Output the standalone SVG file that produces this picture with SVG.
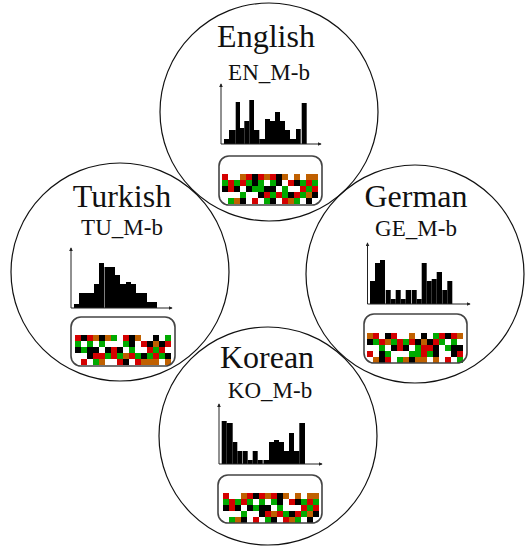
<svg xmlns="http://www.w3.org/2000/svg" width="528" height="549" viewBox="0 0 528 549">
<style>
.c{fill:none;stroke:#111;stroke-width:1.2}
.t{font-family:"Liberation Serif","Times New Roman",serif;font-size:32px;fill:#111;text-anchor:middle}
.s{font-family:"Liberation Serif","Times New Roman",serif;font-size:23px;fill:#111;text-anchor:middle}
.ax{fill:none;stroke:#222;stroke-width:1}
.bar rect{fill:#000}
.box{fill:none;stroke:#444;stroke-width:1.6}
.r{fill:#d40000}.g{fill:#00aa00}.k{fill:#000}.o{fill:#c06000}
</style>
<defs>
<marker id="ah" viewBox="0 0 6 6" refX="5" refY="3" markerWidth="4" markerHeight="4" markerUnits="userSpaceOnUse" orient="auto"><path d="M0,0 L6,3 L0,6 z" fill="#222"/></marker>
</defs>

<g id="connectors"></g>

<g id="english">
<circle class="c" cx="269" cy="112" r="109"/>
<text class="t" x="266" y="47">English</text>
<text class="s" x="269" y="80">EN_M-b</text>
<g class="bar">
<rect x="224" y="139" width="5" height="5"/>
<rect x="229" y="130" width="6.7" height="14"/>
<rect x="235.7" y="102" width="4.3" height="42"/>
<rect x="240" y="128" width="4.3" height="16"/>
<rect x="244.3" y="121" width="5" height="23"/>
<rect x="249.3" y="100" width="4.7" height="44"/>
<rect x="254" y="130" width="5.3" height="14"/>
<rect x="259.3" y="139" width="5.7" height="5"/>
<rect x="265" y="119" width="5" height="25"/>
<rect x="270" y="121" width="5" height="23"/>
<rect x="275" y="112" width="5" height="32"/>
<rect x="280" y="121" width="5" height="23"/>
<rect x="285" y="130" width="5" height="14"/>
<rect x="290" y="139" width="6" height="5"/>
<rect x="296" y="129" width="4.7" height="15"/>
<rect x="301.7" y="103" width="5" height="41"/>
</g>
<path class="ax" d="M221,144 V84" marker-end="url(#ah)"/>
<path class="ax" d="M221,144 H321" marker-end="url(#ah)"/>
<g transform="translate(222,174)">
<rect class="r" x="0" y="0" width="6" height="6"/><rect class="o" x="18" y="0" width="6" height="6"/><rect class="r" x="24" y="0" width="6" height="6"/><rect class="k" x="30" y="0" width="6" height="6"/><rect class="r" x="36" y="0" width="6" height="6"/><rect class="o" x="42" y="0" width="6" height="6"/><rect class="r" x="48" y="0" width="6" height="6"/><rect class="k" x="54" y="0" width="6" height="6"/><rect class="o" x="60" y="0" width="6" height="6"/><rect class="o" x="72" y="0" width="6" height="6"/><rect class="o" x="84" y="0" width="6" height="6"/><rect class="o" x="90" y="0" width="6" height="6"/>
<rect class="g" x="0" y="6" width="6" height="6"/><rect class="r" x="6" y="6" width="6" height="6"/><rect class="g" x="12" y="6" width="6" height="6"/><rect class="r" x="18" y="6" width="6" height="6"/><rect class="g" x="24" y="6" width="6" height="6"/><rect class="k" x="30" y="6" width="6" height="6"/><rect class="g" x="36" y="6" width="6" height="6"/><rect class="g" x="48" y="6" width="6" height="6"/><rect class="k" x="54" y="6" width="6" height="6"/><rect class="r" x="66" y="6" width="6" height="6"/><rect class="k" x="72" y="6" width="6" height="6"/><rect class="g" x="78" y="6" width="6" height="6"/><rect class="r" x="84" y="6" width="6" height="6"/><rect class="g" x="90" y="6" width="6" height="6"/>
<rect class="k" x="0" y="12" width="6" height="6"/><rect class="r" x="6" y="12" width="6" height="6"/><rect class="k" x="12" y="12" width="6" height="6"/><rect class="k" x="24" y="12" width="6" height="6"/><rect class="g" x="30" y="12" width="6" height="6"/><rect class="g" x="36" y="12" width="6" height="6"/><rect class="k" x="42" y="12" width="6" height="6"/><rect class="k" x="48" y="12" width="6" height="6"/><rect class="g" x="60" y="12" width="6" height="6"/><rect class="r" x="78" y="12" width="6" height="6"/><rect class="g" x="84" y="12" width="6" height="6"/><rect class="r" x="90" y="12" width="6" height="6"/>
<rect class="g" x="18" y="18" width="6" height="6"/><rect class="k" x="36" y="18" width="6" height="6"/><rect class="r" x="42" y="18" width="6" height="6"/><rect class="g" x="48" y="18" width="6" height="6"/><rect class="r" x="54" y="18" width="6" height="6"/><rect class="g" x="60" y="18" width="6" height="6"/><rect class="k" x="66" y="18" width="6" height="6"/><rect class="r" x="72" y="18" width="6" height="6"/><rect class="g" x="78" y="18" width="6" height="6"/><rect class="o" x="84" y="18" width="6" height="6"/><rect class="k" x="90" y="18" width="6" height="6"/>
<rect class="g" x="6" y="24" width="6" height="6"/><rect class="o" x="12" y="24" width="6" height="6"/><rect class="k" x="18" y="24" width="6" height="6"/><rect class="r" x="30" y="24" width="6" height="6"/><rect class="g" x="42" y="24" width="6" height="6"/><rect class="k" x="48" y="24" width="6" height="6"/><rect class="r" x="60" y="24" width="6" height="6"/><rect class="o" x="66" y="24" width="6" height="6"/><rect class="g" x="72" y="24" width="6" height="6"/><rect class="k" x="84" y="24" width="6" height="6"/>
</g>
<rect class="box" x="219" y="156" width="103" height="49" rx="10"/>
</g>

<g id="turkish">
<circle class="c" cx="120" cy="272" r="109"/>
<text class="t" x="122" y="207">Turkish</text>
<text class="s" x="122" y="235">TU_M-b</text>
<g class="bar">
<rect x="74" y="304" width="5" height="4"/>
<rect x="79" y="293" width="15" height="15"/>
<rect x="94" y="284" width="5" height="24"/>
<rect x="99" y="263" width="5" height="45"/>
<rect x="104.5" y="267" width="10.5" height="41"/>
<rect x="115" y="275" width="5" height="33"/>
<rect x="120" y="284" width="6" height="24"/>
<rect x="126" y="282" width="5" height="26"/>
<rect x="131" y="284" width="5" height="24"/>
<rect x="136" y="293" width="11" height="15"/>
<rect x="147" y="302" width="10" height="6"/>
</g>
<path class="ax" d="M71,308 V248" marker-end="url(#ah)"/>
<path class="ax" d="M71,308 H172" marker-end="url(#ah)"/>
<g transform="translate(75,335)">
<rect class="r" x="0" y="0" width="6" height="6"/><rect class="k" x="6" y="0" width="6" height="6"/><rect class="r" x="12" y="0" width="6" height="6"/><rect class="o" x="18" y="0" width="6" height="6"/><rect class="k" x="24" y="0" width="6" height="6"/><rect class="o" x="30" y="0" width="6" height="6"/><rect class="g" x="36" y="0" width="6" height="6"/><rect class="r" x="48" y="0" width="6" height="6"/><rect class="k" x="54" y="0" width="6" height="6"/><rect class="o" x="60" y="0" width="6" height="6"/><rect class="k" x="78" y="0" width="6" height="6"/><rect class="g" x="90" y="0" width="6" height="6"/>
<rect class="g" x="0" y="6" width="6" height="6"/><rect class="g" x="12" y="6" width="6" height="6"/><rect class="g" x="24" y="6" width="6" height="6"/><rect class="g" x="48" y="6" width="6" height="6"/><rect class="k" x="54" y="6" width="6" height="6"/><rect class="r" x="66" y="6" width="6" height="6"/><rect class="k" x="72" y="6" width="6" height="6"/><rect class="o" x="78" y="6" width="6" height="6"/><rect class="k" x="84" y="6" width="6" height="6"/><rect class="r" x="90" y="6" width="6" height="6"/>
<rect class="k" x="0" y="12" width="6" height="6"/><rect class="g" x="6" y="12" width="6" height="6"/><rect class="k" x="12" y="12" width="6" height="6"/><rect class="k" x="18" y="12" width="6" height="6"/><rect class="k" x="30" y="12" width="6" height="6"/><rect class="r" x="36" y="12" width="6" height="6"/><rect class="k" x="42" y="12" width="6" height="6"/><rect class="g" x="54" y="12" width="6" height="6"/><rect class="r" x="72" y="12" width="6" height="6"/><rect class="g" x="78" y="12" width="6" height="6"/><rect class="r" x="84" y="12" width="6" height="6"/>
<rect class="k" x="12" y="18" width="6" height="6"/><rect class="r" x="18" y="18" width="6" height="6"/><rect class="r" x="24" y="18" width="6" height="6"/><rect class="g" x="30" y="18" width="6" height="6"/><rect class="r" x="36" y="18" width="6" height="6"/><rect class="g" x="42" y="18" width="6" height="6"/><rect class="o" x="48" y="18" width="6" height="6"/><rect class="r" x="54" y="18" width="6" height="6"/><rect class="g" x="60" y="18" width="6" height="6"/><rect class="k" x="66" y="18" width="6" height="6"/><rect class="g" x="72" y="18" width="6" height="6"/><rect class="r" x="78" y="18" width="6" height="6"/><rect class="g" x="84" y="18" width="6" height="6"/><rect class="k" x="90" y="18" width="6" height="6"/>
<rect class="r" x="6" y="24" width="6" height="6"/><rect class="g" x="18" y="24" width="6" height="6"/><rect class="o" x="24" y="24" width="6" height="6"/><rect class="r" x="42" y="24" width="6" height="6"/><rect class="k" x="48" y="24" width="6" height="6"/><rect class="r" x="60" y="24" width="6" height="6"/><rect class="o" x="66" y="24" width="6" height="6"/><rect class="o" x="72" y="24" width="6" height="6"/><rect class="o" x="78" y="24" width="6" height="6"/><rect class="o" x="90" y="24" width="6" height="6"/>
</g>
<rect class="box" x="71" y="317" width="104" height="49" rx="10"/>
</g>

<g id="german">
<circle class="c" cx="415" cy="274" r="109"/>
<text class="t" x="416" y="207">German</text>
<text class="s" x="416" y="236">GE_M-b</text>
<g class="bar">
<rect x="370" y="281" width="5" height="23"/>
<rect x="375" y="263" width="5" height="41"/>
<rect x="380" y="260" width="5" height="44"/>
<rect x="385.7" y="290" width="5" height="14"/>
<rect x="390.7" y="299" width="5" height="5"/>
<rect x="395.7" y="290" width="5" height="14"/>
<rect x="400.7" y="299" width="5" height="5"/>
<rect x="405.7" y="290" width="5.3" height="14"/>
<rect x="411.7" y="290" width="5" height="14"/>
<rect x="416.7" y="299" width="5" height="5"/>
<rect x="421.7" y="263" width="5" height="41"/>
<rect x="426.7" y="281" width="5" height="23"/>
<rect x="431.7" y="279" width="5" height="25"/>
<rect x="436.7" y="272" width="5.3" height="32"/>
<rect x="442.3" y="290" width="5" height="14"/>
<rect x="447.3" y="281" width="5" height="23"/>
</g>
<path class="ax" d="M367.5,304 V243" marker-end="url(#ah)"/>
<path class="ax" d="M367.5,304 H470" marker-end="url(#ah)"/>
<g transform="translate(367,333)">
<rect class="o" x="0" y="0" width="6" height="6"/><rect class="r" x="6" y="0" width="6" height="6"/><rect class="k" x="18" y="0" width="6" height="6"/><rect class="r" x="24" y="0" width="6" height="6"/><rect class="o" x="42" y="0" width="6" height="6"/><rect class="k" x="54" y="0" width="6" height="6"/><rect class="g" x="66" y="0" width="6" height="6"/><rect class="r" x="72" y="0" width="6" height="6"/><rect class="k" x="78" y="0" width="6" height="6"/><rect class="r" x="84" y="0" width="6" height="6"/><rect class="o" x="90" y="0" width="6" height="6"/>
<rect class="k" x="0" y="6" width="6" height="6"/><rect class="g" x="6" y="6" width="6" height="6"/><rect class="r" x="12" y="6" width="6" height="6"/><rect class="o" x="18" y="6" width="6" height="6"/><rect class="g" x="24" y="6" width="6" height="6"/><rect class="r" x="30" y="6" width="6" height="6"/><rect class="g" x="36" y="6" width="6" height="6"/><rect class="r" x="42" y="6" width="6" height="6"/><rect class="k" x="48" y="6" width="6" height="6"/><rect class="o" x="54" y="6" width="6" height="6"/><rect class="k" x="60" y="6" width="6" height="6"/><rect class="r" x="66" y="6" width="6" height="6"/><rect class="g" x="72" y="6" width="6" height="6"/><rect class="g" x="84" y="6" width="6" height="6"/>
<rect class="g" x="12" y="12" width="6" height="6"/><rect class="k" x="24" y="12" width="6" height="6"/><rect class="r" x="30" y="12" width="6" height="6"/><rect class="k" x="36" y="12" width="6" height="6"/><rect class="g" x="48" y="12" width="6" height="6"/><rect class="r" x="54" y="12" width="6" height="6"/><rect class="r" x="60" y="12" width="6" height="6"/><rect class="k" x="66" y="12" width="6" height="6"/><rect class="g" x="78" y="12" width="6" height="6"/><rect class="k" x="84" y="12" width="6" height="6"/><rect class="k" x="90" y="12" width="6" height="6"/>
<rect class="r" x="0" y="18" width="6" height="6"/><rect class="k" x="12" y="18" width="6" height="6"/><rect class="g" x="18" y="18" width="6" height="6"/><rect class="g" x="42" y="18" width="6" height="6"/><rect class="g" x="48" y="18" width="6" height="6"/><rect class="r" x="54" y="18" width="6" height="6"/><rect class="g" x="60" y="18" width="6" height="6"/><rect class="k" x="66" y="18" width="6" height="6"/><rect class="k" x="84" y="18" width="6" height="6"/><rect class="r" x="90" y="18" width="6" height="6"/>
<rect class="o" x="6" y="24" width="6" height="6"/><rect class="k" x="12" y="24" width="6" height="6"/><rect class="r" x="18" y="24" width="6" height="6"/><rect class="g" x="30" y="24" width="6" height="6"/><rect class="o" x="36" y="24" width="6" height="6"/><rect class="k" x="42" y="24" width="6" height="6"/><rect class="o" x="48" y="24" width="6" height="6"/><rect class="o" x="54" y="24" width="6" height="6"/><rect class="o" x="66" y="24" width="6" height="6"/><rect class="r" x="78" y="24" width="6" height="6"/><rect class="g" x="90" y="24" width="6" height="6"/>
</g>
<rect class="box" x="364" y="314" width="103" height="49" rx="10"/>
</g>

<g id="korean">
<circle class="c" cx="268" cy="436" r="109"/>
<text class="t" x="267" y="368">Korean</text>
<text class="s" x="270" y="398">KO_M-b</text>
<g class="bar">
<rect x="221.7" y="421" width="5" height="43"/>
<rect x="226.7" y="423" width="6" height="41"/>
<rect x="232.7" y="442" width="4.6" height="22"/>
<rect x="237.3" y="451" width="5" height="13"/>
<rect x="242.8" y="451" width="4.9" height="13"/>
<rect x="247.7" y="460" width="5" height="4"/>
<rect x="252.7" y="451" width="5" height="13"/>
<rect x="257.7" y="460" width="5" height="4"/>
<rect x="263.5" y="460" width="5.5" height="4"/>
<rect x="269" y="442" width="5" height="22"/>
<rect x="274" y="440" width="5" height="24"/>
<rect x="279" y="442" width="5" height="22"/>
<rect x="284" y="451" width="5" height="13"/>
<rect x="289" y="433" width="5" height="31"/>
<rect x="294" y="451" width="5.3" height="13"/>
<rect x="299.3" y="423" width="5.7" height="41"/>
</g>
<path class="ax" d="M219,464 V404" marker-end="url(#ah)"/>
<path class="ax" d="M219,464 H322" marker-end="url(#ah)"/>
<g transform="translate(223,493)">
<rect class="r" x="0" y="0" width="6" height="6"/><rect class="o" x="18" y="0" width="6" height="6"/><rect class="r" x="24" y="0" width="6" height="6"/><rect class="k" x="30" y="0" width="6" height="6"/><rect class="r" x="36" y="0" width="6" height="6"/><rect class="o" x="42" y="0" width="6" height="6"/><rect class="r" x="48" y="0" width="6" height="6"/><rect class="k" x="54" y="0" width="6" height="6"/><rect class="o" x="60" y="0" width="6" height="6"/><rect class="o" x="72" y="0" width="6" height="6"/><rect class="o" x="84" y="0" width="6" height="6"/><rect class="o" x="90" y="0" width="6" height="6"/>
<rect class="g" x="0" y="6" width="6" height="6"/><rect class="r" x="6" y="6" width="6" height="6"/><rect class="g" x="12" y="6" width="6" height="6"/><rect class="r" x="18" y="6" width="6" height="6"/><rect class="g" x="24" y="6" width="6" height="6"/><rect class="g" x="36" y="6" width="6" height="6"/><rect class="g" x="48" y="6" width="6" height="6"/><rect class="k" x="54" y="6" width="6" height="6"/><rect class="r" x="66" y="6" width="6" height="6"/><rect class="k" x="72" y="6" width="6" height="6"/><rect class="g" x="78" y="6" width="6" height="6"/><rect class="r" x="84" y="6" width="6" height="6"/><rect class="g" x="90" y="6" width="6" height="6"/>
<rect class="k" x="0" y="12" width="6" height="6"/><rect class="r" x="6" y="12" width="6" height="6"/><rect class="k" x="12" y="12" width="6" height="6"/><rect class="k" x="24" y="12" width="6" height="6"/><rect class="g" x="30" y="12" width="6" height="6"/><rect class="k" x="36" y="12" width="6" height="6"/><rect class="k" x="42" y="12" width="6" height="6"/><rect class="g" x="54" y="12" width="6" height="6"/><rect class="r" x="78" y="12" width="6" height="6"/><rect class="g" x="84" y="12" width="6" height="6"/><rect class="r" x="90" y="12" width="6" height="6"/>
<rect class="g" x="18" y="18" width="6" height="6"/><rect class="k" x="36" y="18" width="6" height="6"/><rect class="r" x="42" y="18" width="6" height="6"/><rect class="o" x="48" y="18" width="6" height="6"/><rect class="r" x="54" y="18" width="6" height="6"/><rect class="g" x="60" y="18" width="6" height="6"/><rect class="k" x="66" y="18" width="6" height="6"/><rect class="r" x="72" y="18" width="6" height="6"/><rect class="g" x="78" y="18" width="6" height="6"/><rect class="o" x="84" y="18" width="6" height="6"/><rect class="k" x="90" y="18" width="6" height="6"/>
<rect class="g" x="6" y="24" width="6" height="6"/><rect class="o" x="12" y="24" width="6" height="6"/><rect class="k" x="18" y="24" width="6" height="6"/><rect class="r" x="30" y="24" width="6" height="6"/><rect class="g" x="42" y="24" width="6" height="6"/><rect class="k" x="48" y="24" width="6" height="6"/><rect class="r" x="60" y="24" width="6" height="6"/><rect class="o" x="66" y="24" width="6" height="6"/><rect class="g" x="72" y="24" width="6" height="6"/><rect class="k" x="84" y="24" width="6" height="6"/>
</g>
<rect class="box" x="218" y="475" width="104" height="48" rx="10"/>
</g>
</svg>
